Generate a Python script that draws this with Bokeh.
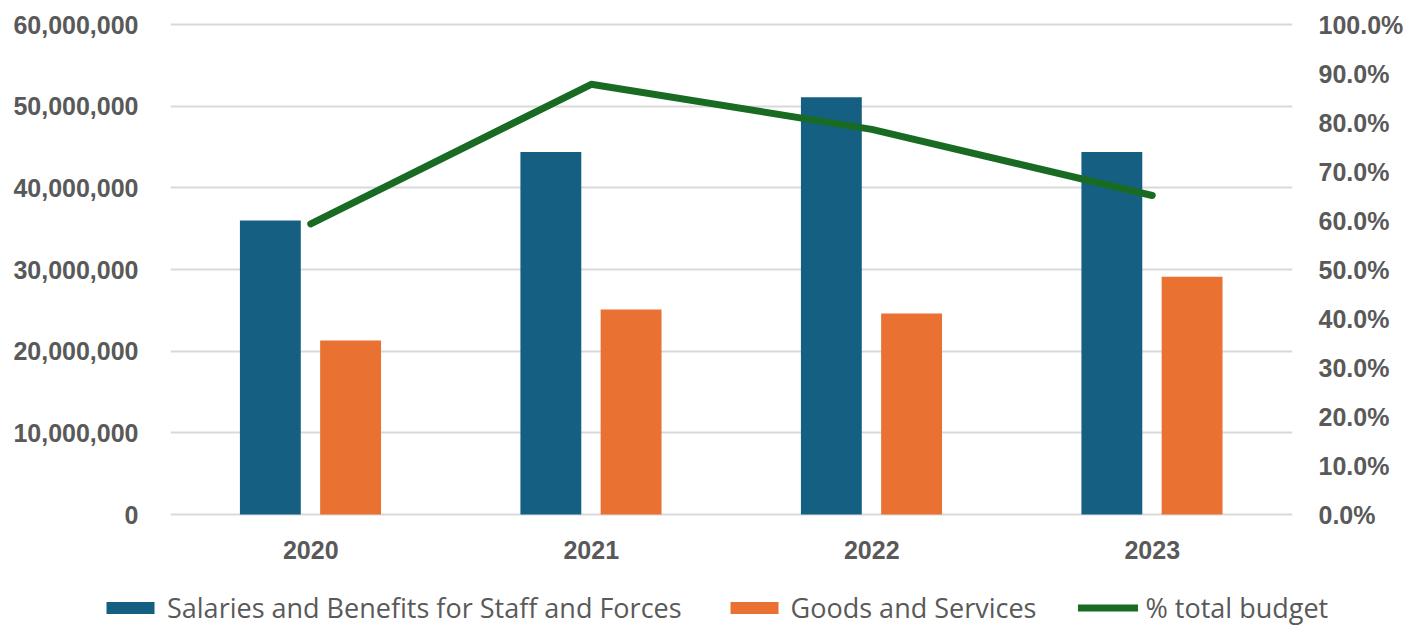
from bokeh.plotting import figure
from bokeh.layouts import column
from bokeh.models import (ColumnDataSource, FactorRange, Range1d, LinearAxis,
                          NumeralTickFormatter, FixedTicker, Legend, LegendItem,
                          CustomJSTickFormatter)
from bokeh.transform import dodge
from bokeh.embed import file_html
from bokeh.resources import INLINE

years = ["2020", "2021", "2022", "2023"]
salaries = [36.0e6, 44.4e6, 51.1e6, 44.4e6]
goods = [21.3e6, 25.1e6, 24.6e6, 29.1e6]
pct_budget = [59.3, 87.8, 78.6, 65.1]

series_names = ["Salaries and Benefits for Staff and Forces", "Goods and Services",
                "% total budget"]

left_ticks = [0, 10e6, 20e6, 30e6, 40e6, 50e6, 60e6]
right_ticks = [0, 10, 20, 30, 40, 50, 60, 70, 80, 90, 100]

BLUE = "#156082"
ORANGE = "#E97132"
GREEN = "#196B24"
TXT = "#595959"
GRID = "#D9D9D9"
AXFONT = "Liberation Sans"

PLOT_H = 490
PAD = 4
MAIN_H = 572
LEG_H = 626 - MAIN_H
lpad = 60e6 * PAD / PLOT_H
rpad = 100 * PAD / PLOT_H

src = ColumnDataSource(dict(years=years, sal=salaries, goods=goods, pct=pct_budget))

p = figure(x_range=FactorRange(*years, range_padding=0.0),
           y_range=Range1d(-lpad, 60e6 + lpad),
           width=1424, height=MAIN_H,
           min_border_left=170, min_border_right=132,
           min_border_top=24 - PAD, min_border_bottom=MAIN_H - (24 + PLOT_H + PAD),
           output_backend="svg", toolbar_location=None)
p.frame_align = False
p.extra_y_ranges = {"pct": Range1d(-rpad, 100 + rpad)}

p.outline_line_color = None
p.background_fill_color = "white"
p.xgrid.grid_line_color = None
p.ygrid.grid_line_color = GRID
p.ygrid.grid_line_width = 2
p.ygrid.ticker = FixedTicker(ticks=left_ticks)

p.vbar(x=dodge("years", -0.144, range=p.x_range), top="sal", width=0.217,
       source=src, color=BLUE, line_color=None)
p.vbar(x=dodge("years", 0.142, range=p.x_range), top="goods", width=0.217,
       source=src, color=ORANGE, line_color=None)
p.line(x="years", y="pct", source=src, y_range_name="pct", line_color=GREEN,
       line_width=7, line_cap="round", line_join="round")


def style_axis(ax, standoff):
    ax.axis_line_color = None
    ax.major_tick_line_color = None
    ax.minor_tick_line_color = None
    ax.major_label_text_font = AXFONT
    ax.major_label_text_font_style = "bold"
    ax.major_label_text_font_size = "25px"
    ax.major_label_text_color = TXT
    ax.major_label_standoff = standoff


ya = p.yaxis[0]
ya.ticker = FixedTicker(ticks=left_ticks)
ya.formatter = NumeralTickFormatter(format="0,0")
style_axis(ya, 26)

ra = LinearAxis(y_range_name="pct", ticker=FixedTicker(ticks=right_ticks),
                formatter=CustomJSTickFormatter(code="return tick.toFixed(1) + '%';"))
style_axis(ra, 20)
p.add_layout(ra, "right")

xa = p.xaxis[0]
style_axis(xa, 16)

# ---- legend strip (separate figure so it is not clipped by the plot frame) ----
lg = figure(width=1424, height=LEG_H, x_range=Range1d(0, 1), y_range=Range1d(0, 1),
            min_border=0, x_axis_type=None, y_axis_type=None,
            output_backend="svg", toolbar_location=None)
lg.frame_align = False
lg.outline_line_color = None
lg.xgrid.grid_line_color = None
lg.ygrid.grid_line_color = None
# proxy glyphs for the legend keys only; their single point lies outside the view
proxy = ColumnDataSource(dict(x=[-10.0], y=[-10.0], top=[-9.0]))
g1 = lg.vbar(x="x", top="top", bottom="y", width=0.1, source=proxy, color=BLUE,
             line_color=None)
g2 = lg.vbar(x="x", top="top", bottom="y", width=0.1, source=proxy, color=ORANGE,
             line_color=None)
g3 = lg.line(x="x", y="y", source=proxy, line_color=GREEN, line_width=7,
             line_cap="round")

legend = Legend(items=[
    LegendItem(label=series_names[0], renderers=[g1]),
    LegendItem(label=series_names[1], renderers=[g2]),
    LegendItem(label=series_names[2], renderers=[g3]),
], orientation="horizontal", location=(100, 0))
legend.border_line_color = None
legend.background_fill_alpha = 0
legend.label_text_font = "Open Sans"
legend.label_text_font_size = "27px"
legend.label_text_color = TXT
legend.glyph_width = 60
legend.glyph_height = 15
legend.label_standoff = 7
legend.spacing = 42
legend.padding = 0
legend.margin = 0
lg.add_layout(legend, "center")

layout = column(p, lg, spacing=0)
open("out.html", "w").write(file_html(layout, INLINE))
